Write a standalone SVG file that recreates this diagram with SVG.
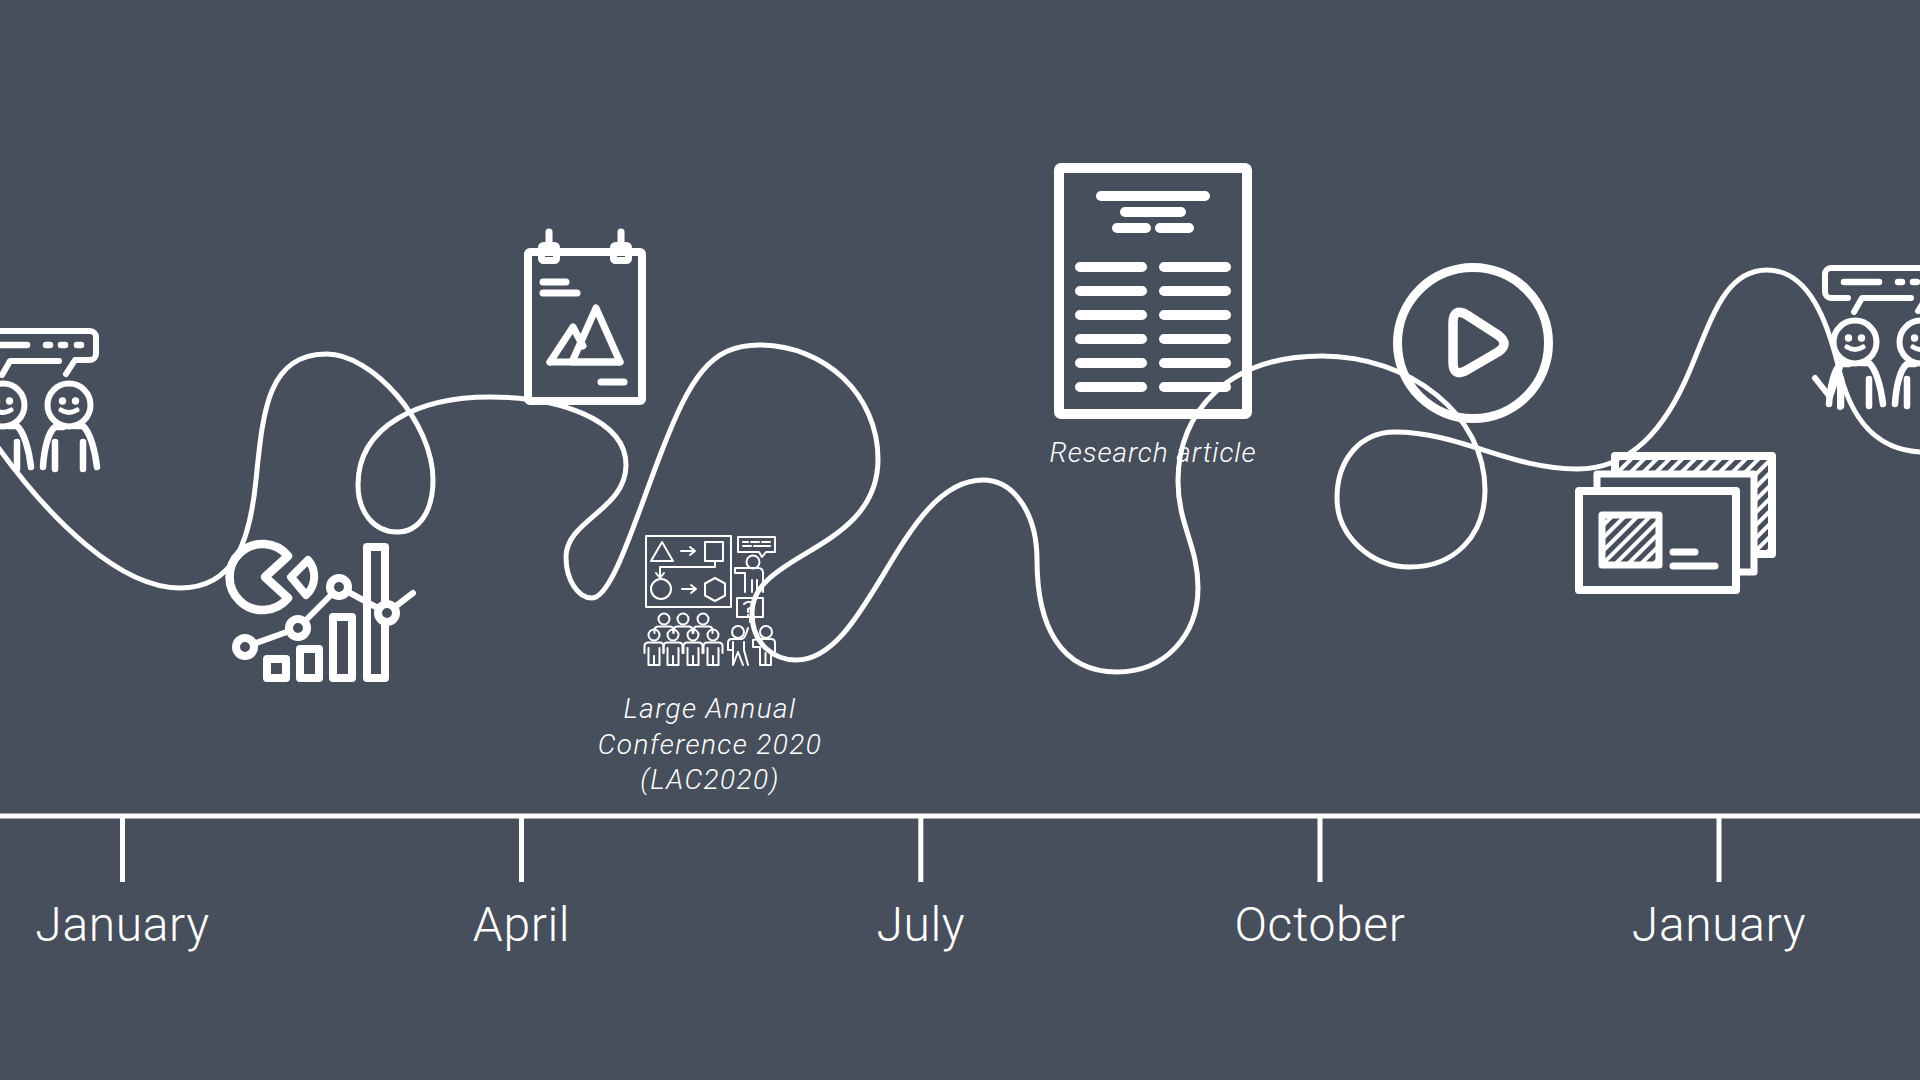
<svg xmlns="http://www.w3.org/2000/svg" width="1920" height="1080" viewBox="0 0 1920 1080">
<style>
.s{fill:none;stroke:#fff;stroke-linecap:round;stroke-linejoin:round}
.f{fill:#fff;stroke:none}
.bg{fill:#484f5c}
.month{font-family:"Roboto","Liberation Sans",sans-serif;font-weight:300;font-size:48px;fill:#fff;text-anchor:middle;letter-spacing:.6px}
.note{font-family:"Roboto","Liberation Sans",sans-serif;font-weight:300;font-style:italic;font-size:28px;fill:#fff;text-anchor:middle}
</style>
<defs>
<pattern id="hatch" width="9" height="9" patternUnits="userSpaceOnUse" patternTransform="rotate(-45)">
<rect width="9" height="9" fill="#484f5c"/>
<rect width="9" height="4" fill="#fff"/>
</pattern>
<g id="talk" class="s">
<path stroke-width="6" d="M-4,361H-21a6,6 0 0 1 -6,-6V337a6,6 0 0 1 6,-6H90a6,6 0 0 1 6,6V354a6,6 0 0 1 -6,6H75L66,374M59,361H10L2,375"/>
<path stroke-width="6.500" d="M-8,345H27M46,345H50M61,345H65M77,345H81"/>
</g>
<g id="person">
<circle class="s" stroke-width="6" cx="0" cy="405" r="21.500"/>
<circle class="f" cx="-6.500" cy="401" r="3.700"/><circle class="f" cx="6.500" cy="401" r="3.700"/>
<path class="s" stroke-width="5" d="M-8,410Q0,415 8,410"/>
<path class="s" stroke-width="6.500" d="M-6,427H-14C-21,432-25,450-26,467M6,426H14C21,432 26,450 28,467M-14,442V469M14,442V469"/>
</g>
<g id="aud-back" class="s" stroke-width="2">
<circle cx="0" cy="0" r="5.500"/>
<path d="M-9.500,14V11Q-9.500,7.500-5.500,7.500H5.500Q9.500,7.500 9.500,11V14"/>
</g>
<g id="aud" class="s" stroke-width="2">
<circle cx="0" cy="0" r="5.500"/>
<path d="M-9.500,18V11Q-9.500,7.500-5.500,7.500H5.500Q9.500,7.500 9.500,11V18M-5.500,13V30H5.500V13M0,21V30"/>
</g>
</defs>
<rect width="1920" height="1080" class="bg"/>

<g id="connectors">
<path class="s" stroke-width="5" d="M-5,443C50,520 120,588 180,588C235,588 250,540 256,480C263,410 268,354 327,354C372,354 433,422 433,480C433,510 420,532 397,532C374,532 358,512 358,485C358,425 420,397 490,397C560,397 626,420 626,465C626,510 566,520 566,557C566,580 578,598 592,598C612,598 635,520 661,453C690,378 710,345 759,345C825,345 878,395 878,459C878,552 752,552 752,613C752,645 775,660 796,660C870,660 900,480 983,480C1015,480 1037,515 1037,560C1037,625 1060,672 1117,672C1165,672 1198,635 1198,588C1198,545 1178,525 1178,481C1178,410 1230,356 1322,356C1410,356 1485,415 1485,490C1485,535 1455,567 1410,567C1370,567 1337,535 1337,498C1337,460 1360,432 1395,432C1460,432 1510,469 1577,469C1630,469 1665,430 1690,370C1712,318 1725,270 1767,270C1810,270 1828,325 1838,365C1848,410 1870,452 1925,452"/>
</g>

<g id="axis">
<path class="s" style="stroke-linecap:butt" stroke-width="5" d="M0,816H1920M122.500,816V882M521.500,816V882M920.800,816V882M1320,816V882M1719,816V882"/>
<text class="month" x="122.500" y="941">January</text>
<text class="month" x="521.500" y="941">April</text>
<text class="month" x="920.800" y="941">July</text>
<text class="month" x="1320" y="941">October</text>
<text class="month" x="1719" y="941">January</text>
</g>

<g id="people-left">
<use href="#talk"/>
<use href="#person" x="3"/><use href="#person" x="69"/>
</g>

<g id="chart">
<path class="s" style="fill:#484f5c" stroke-width="8.500" d="M265,577L288,556A33,33 0 1 0 288,598Z"/>
<path class="s" stroke-width="8" d="M291,577L308,560A25,25 0 0 1 306,595Z"/>
<g class="s" stroke-width="8">
<rect x="267" y="659" width="19" height="19"/>
<rect x="300" y="649" width="19" height="29"/>
<rect x="333" y="617" width="19" height="61"/>
<rect x="367" y="547" width="18" height="131"/>
</g>
<path class="s" stroke-width="6" d="M245,647L298,628L339,587L387,613L413,593"/>
<g class="s" style="fill:#484f5c" stroke-width="8">
<circle cx="245" cy="647" r="9"/><circle cx="298" cy="628" r="9"/><circle cx="339" cy="587" r="9"/><circle cx="387" cy="613" r="9"/>
</g>
</g>

<g id="calendar" class="s">
<rect x="528" y="252" width="114" height="149" rx="2" stroke-width="8"/>
<path stroke-width="7" d="M549,232V244M621,232V244M543,282H566M543,293H577M601,382H624"/>
<rect x="541.500" y="245.500" width="15" height="15" rx="2" stroke-width="7"/>
<rect x="613.500" y="245.500" width="15" height="15" rx="2" stroke-width="7"/>
<path stroke-width="7" d="M550,362L573,327L583,346M572,362L596,308L620,362Z"/>
<path stroke-width="7" d="M550,362H620"/>
</g>

<g id="conference" class="s" stroke-width="2">
<rect x="646" y="536" width="85" height="71"/>
<path d="M651,561H673L662,542Z"/>
<rect x="705" y="542" width="18" height="19"/>
<path d="M681,551H694M690,547L695,551L690,555M715,561V567H660V577M656,573L660,578L664,573"/>
<circle cx="661" cy="589" r="10"/>
<path d="M682,589H695M691,585L696,589L691,593"/>
<path d="M715,578L725,583.500V595.500L715,601L705,595.500V583.500Z"/>
<path d="M738,537H775V552H766L762,557L759,552H738ZM743,542H748M751,542H759M762,542H770M743,546H751M754,546H770"/>
<circle cx="753" cy="562" r="6.500"/>
<path d="M735,568H758Q763,568 763,573V592M735,568V573H745V592M752,580V592M757,580V592"/>
<path d="M737,598H763V617H755L750,622V617H737ZM744,604Q748,600 752,603Q753,607 748,609V612M748,615V615.500"/>
<use href="#aud-back" x="664" y="619"/><use href="#aud-back" x="683" y="619"/><use href="#aud-back" x="703" y="619"/>
<g style="fill:#484f5c">
<use href="#aud" x="654" y="635"/><use href="#aud" x="673" y="635"/><use href="#aud" x="693" y="635"/><use href="#aud" x="713" y="635"/>
</g>
<circle cx="738" cy="632" r="6"/>
<path d="M728,650V643Q728,639 732,639H742Q745,639 748,628M728,650H733V642M733,650L733,665M744,642V650L748,665M738,652L733,665M738,652L743,665"/>
<circle cx="766" cy="632" r="6"/>
<path d="M753,640V647H760V665H771V652H775V643Q775,639 771,639H758ZM765.500,653V665"/>
</g>

<g id="article" class="s">
<rect x="1059" y="168" width="188" height="246" rx="2" stroke-width="10"/>
<path stroke-width="10" d="M1101,196H1205M1125,212H1181M1117,228H1146M1160,228H1189M1080,267H1142M1164,267H1226M1080,291H1142M1164,291H1226M1080,315H1142M1164,315H1226M1080,339H1142M1164,339H1226M1080,363H1142M1164,363H1226M1080,387H1142M1164,387H1226"/>
<text x="1153" y="462" class="note" style="stroke:none;letter-spacing:.95px">Research article</text>
</g>

<g id="lac" style="letter-spacing:1.400px">
<text class="note" x="710" y="718">Large Annual</text>
<text class="note" x="710" y="754">Conference 2020</text>
<text class="note" x="710" y="789">(LAC2020)</text>
</g>

<g id="play" class="s">
<circle cx="1473" cy="343" r="75.500" stroke-width="9"/>
<path stroke-width="9.500" d="M1453,323Q1453,307 1467,315L1498,335Q1510,344 1498,352L1467,370Q1453,378 1453,362Z"/>
</g>

<g id="cards">
<rect x="1615" y="456" width="157" height="98" fill="url(#hatch)" stroke="#fff" stroke-width="8" stroke-linejoin="round"/>
<rect x="1597" y="474" width="157" height="98" class="bg" stroke="#fff" stroke-width="7" stroke-linejoin="round"/>
<rect x="1579" y="491" width="157" height="99" class="bg" stroke="#fff" stroke-width="8" stroke-linejoin="round"/>
<rect x="1602" y="515" width="57" height="50" fill="url(#hatch)" stroke="#fff" stroke-width="7" stroke-linejoin="round"/>
<path class="s" stroke-width="7" d="M1673,552H1695M1673,566H1715"/>
</g>

<g id="people-right" transform="translate(1852,-63)">
<use href="#talk"/>
<use href="#person" x="3"/><use href="#person" x="69"/>
<path class="s" stroke-width="6" d="M-37,441L-22,460L-12,430M-12,440V470"/>
</g>
</svg>
